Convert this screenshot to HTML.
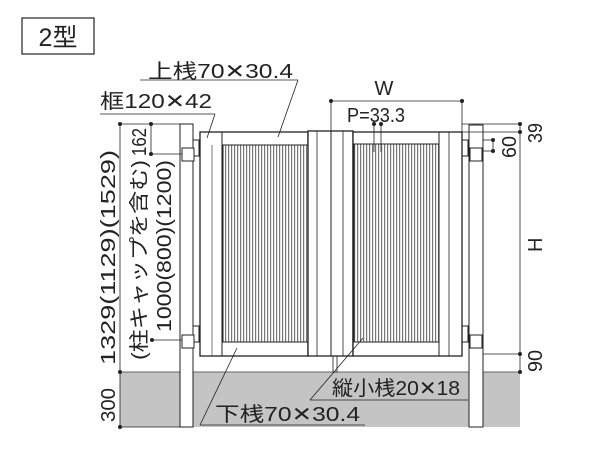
<!DOCTYPE html>
<html><head><meta charset="utf-8"><style>html,body{margin:0;padding:0;background:#fff}svg{display:block}</style></head><body>
<svg width="600" height="471" viewBox="0 0 600 471" xmlns="http://www.w3.org/2000/svg" font-family="'Liberation Sans','Noto Sans CJK JP',sans-serif" fill="none" stroke="#222">
<defs>
<pattern id="sl" width="3" height="10" patternUnits="userSpaceOnUse"><rect width="3" height="10" fill="#fff" stroke="none"/><rect x="0" width="1.2" height="10" fill="#777" stroke="none"/></pattern>
</defs>
<rect x="120" y="372" width="400" height="55" fill="#c4c4c4" stroke="none"/>
<line x1="120" y1="372" x2="520" y2="372" stroke="#666"/>
<rect x="22" y="18" width="72" height="36" stroke-width="1.2"/>
<text x="58" y="46" font-size="25" fill="#222" stroke="none" text-anchor="middle">2型</text>
<rect x="180" y="124" width="13" height="303" fill="#fff" stroke-width="1"/>
<rect x="469" y="125" width="14" height="302" fill="#fff" stroke-width="1"/>
<g fill="#fff" stroke-width="1">
<rect x="193" y="140" width="6" height="16"/><rect x="182" y="148" width="12" height="13"/>
<rect x="193" y="326" width="6" height="16"/><rect x="182" y="335" width="12" height="13"/>
<rect x="462" y="140" width="6" height="16"/><rect x="470" y="148" width="12" height="13"/>
<rect x="462" y="326" width="6" height="16"/><rect x="470" y="335" width="12" height="13"/>
</g>
<rect x="200" y="132" width="108" height="224" fill="#fff" stroke-width="1.3"/>
<rect x="223" y="145" width="85" height="197" fill="url(#sl)" stroke-width="1"/>
<line x1="222" y1="132" x2="222" y2="356"/><line x1="212" y1="145" x2="212" y2="356" stroke-width="0.6"/>
<line x1="222" y1="342" x2="308" y2="342"/>
<rect x="308" y="131" width="45" height="225" fill="#fff" stroke-width="1.3"/>
<line x1="317" y1="131" x2="317" y2="356" stroke-width="0.8"/><line x1="331" y1="131" x2="331" y2="356"/><line x1="343" y1="131" x2="343" y2="356" stroke-width="0.8"/>
<rect x="333" y="356" width="4" height="16" stroke-width="0.8"/>
<rect x="353" y="132" width="109" height="224" fill="#fff" stroke-width="1.3"/>
<rect x="354" y="144" width="85" height="198" fill="url(#sl)" stroke-width="1"/>
<line x1="439" y1="132" x2="439" y2="356"/><line x1="449" y1="132" x2="449" y2="356" stroke-width="0.8"/>
<line x1="354" y1="342" x2="439" y2="342"/>
<g stroke-width="0.8">
<line x1="331" y1="101" x2="462" y2="101"/><line x1="331" y1="101" x2="331" y2="131"/><line x1="462" y1="101" x2="462" y2="132"/>
<line x1="374" y1="124" x2="374" y2="152"/><line x1="381" y1="124" x2="381" y2="152"/>
<line x1="462" y1="124" x2="520" y2="124"/><line x1="462" y1="132" x2="520" y2="132"/>
<line x1="520" y1="124" x2="520" y2="372"/>
<line x1="483" y1="140" x2="493" y2="140"/><line x1="483" y1="151" x2="493" y2="151"/><line x1="493" y1="140" x2="493" y2="151"/>
<line x1="483" y1="354" x2="520" y2="354"/>
<line x1="120" y1="124" x2="180" y2="124"/><line x1="120" y1="124" x2="120" y2="427"/>
<line x1="151" y1="124" x2="151" y2="154"/><line x1="151" y1="154" x2="182" y2="154"/>
<line x1="151" y1="340" x2="182" y2="340"/>
<line x1="120" y1="427" x2="180" y2="427"/>
<line x1="140" y1="80" x2="298" y2="80"/><line x1="298" y1="80" x2="278" y2="137"/>
<line x1="100" y1="114" x2="215" y2="114"/><line x1="215" y1="114" x2="207" y2="138"/>
<line x1="310" y1="400" x2="468" y2="400"/><line x1="310" y1="400" x2="363" y2="338"/>
<line x1="200" y1="425" x2="365" y2="425"/><line x1="200" y1="425" x2="237" y2="348"/>
</g>
<g fill="#222" stroke="none">
<circle cx="331" cy="101" r="2"/><circle cx="462" cy="101" r="2"/>
<circle cx="374" cy="124" r="2"/><circle cx="381" cy="124" r="2"/>
<circle cx="520" cy="124" r="2"/><circle cx="520" cy="132" r="2"/>
<circle cx="493" cy="140" r="2"/><circle cx="493" cy="151" r="2"/>
<circle cx="520" cy="354" r="2"/><circle cx="520" cy="372" r="2"/>
<circle cx="120" cy="124" r="2"/><circle cx="151" cy="124" r="2"/><circle cx="151" cy="154" r="2"/>
<circle cx="152" cy="340" r="2"/><circle cx="120" cy="372" r="2"/><circle cx="120" cy="427" r="2"/>
</g>
<g fill="#222" stroke="none" font-size="20">
<text x="148" y="78" textLength="145" lengthAdjust="spacingAndGlyphs">上桟70✕30.4</text>
<text x="100" y="108" textLength="112" lengthAdjust="spacingAndGlyphs">框120✕42</text>
<text x="384" y="95" text-anchor="middle">W</text>
<text x="347" y="122" textLength="58" lengthAdjust="spacingAndGlyphs">P=33.3</text>
<text x="332" y="395" textLength="128" lengthAdjust="spacingAndGlyphs">縦小桟20✕18</text>
<text x="215" y="421" textLength="145" lengthAdjust="spacingAndGlyphs">下桟70✕30.4</text>
<text transform="translate(542,143) rotate(-90)" textLength="20" lengthAdjust="spacingAndGlyphs">39</text>
<text transform="translate(516,158) rotate(-90)" textLength="22" lengthAdjust="spacingAndGlyphs">60</text>
<text transform="translate(542,252) rotate(-90)">H</text>
<text transform="translate(542,372) rotate(-90)" textLength="22" lengthAdjust="spacingAndGlyphs">90</text>
<text transform="translate(115,422) rotate(-90)" textLength="34" lengthAdjust="spacingAndGlyphs">300</text>
<text transform="translate(115,365) rotate(-90)" textLength="215" lengthAdjust="spacingAndGlyphs">1329(1129)(1529)</text>
<text transform="translate(146,360) rotate(-90)" textLength="200" lengthAdjust="spacingAndGlyphs">(柱キャップを含む)</text>
<text transform="translate(146,156) rotate(-90)" textLength="28" lengthAdjust="spacingAndGlyphs">162</text>
<text transform="translate(171,332) rotate(-90)" textLength="172" lengthAdjust="spacingAndGlyphs">1000(800)(1200)</text>
</g>
</svg>
</body></html>
